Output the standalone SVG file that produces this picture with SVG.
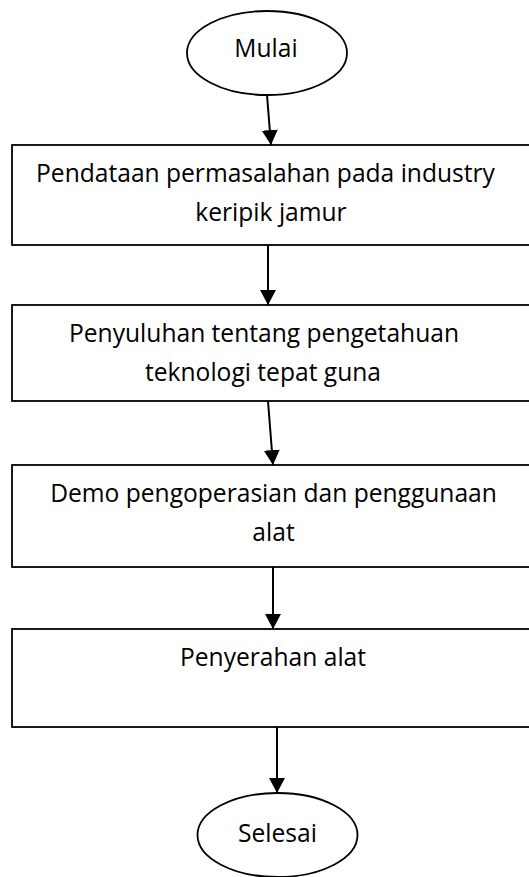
<svg xmlns="http://www.w3.org/2000/svg" width="529" height="877" viewBox="0 0 529 877">
<style>
.shape{fill:#fff;stroke:#000;stroke-width:1.8}
.lbl{font-family:"Open Sans","Noto Sans",sans-serif;font-size:24.6px;fill:#000;text-anchor:middle}
.conn{stroke:#000;stroke-width:2;fill:none;marker-end:url(#ah)}
</style>
<defs>
<marker id="ah" markerUnits="userSpaceOnUse" markerWidth="16" markerHeight="17" refX="15" refY="8" orient="auto">
<path d="M0,0 L15,8 L0,16 Z" fill="#000"/>
</marker>
</defs>
<rect width="529" height="877" fill="#fff"/>
<g id="connectors">
<line class="conn" x1="267" y1="95" x2="271" y2="145"/>
<line class="conn" x1="268" y1="245" x2="268" y2="305"/>
<line class="conn" x1="268" y1="401" x2="273" y2="465"/>
<line class="conn" x1="273" y1="567" x2="273" y2="629"/>
<line class="conn" x1="277" y1="727" x2="277" y2="793"/>
</g>
<g id="mulai">
<ellipse class="shape" cx="267" cy="53" rx="80" ry="42"/>
<text class="lbl" x="266" y="57">Mulai</text>
</g>
<g id="pendataan">
<rect class="shape" x="12" y="145" width="530" height="100"/>
<text class="lbl" x="265.5" y="182">Pendataan permasalahan pada industry</text>
<text class="lbl" x="271" y="221">keripik jamur</text>
</g>
<g id="penyuluhan">
<rect class="shape" x="12" y="305" width="530" height="96"/>
<text class="lbl" x="264" y="342">Penyuluhan tentang pengetahuan</text>
<text class="lbl" x="263" y="381">teknologi tepat guna</text>
</g>
<g id="demo">
<rect class="shape" x="12" y="465" width="530" height="102"/>
<text class="lbl" x="273.5" y="502">Demo pengoperasian dan penggunaan</text>
<text class="lbl" x="273.5" y="541">alat</text>
</g>
<g id="penyerahan">
<rect class="shape" x="12" y="629" width="530" height="98"/>
<text class="lbl" x="273" y="666">Penyerahan alat</text>
</g>
<g id="selesai">
<ellipse class="shape" cx="277.5" cy="835" rx="80" ry="42"/>
<text class="lbl" x="277.5" y="842">Selesai</text>
</g>
</svg>
